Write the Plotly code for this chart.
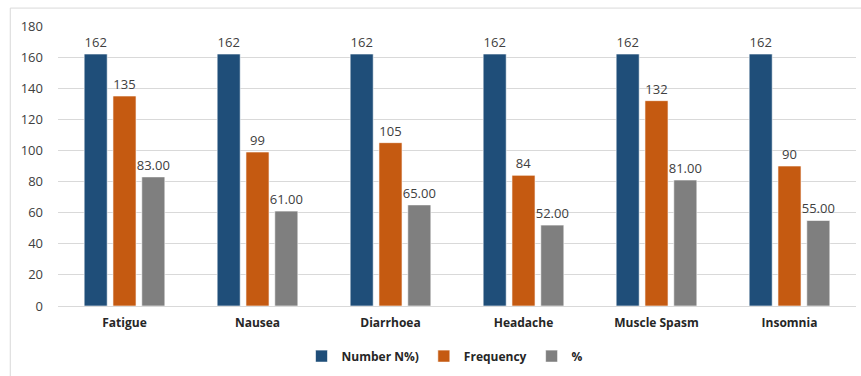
import plotly.graph_objects as go

categories = ["Fatigue", "Nausea", "Diarrhoea", "Headache", "Muscle Spasm", "Insomnia"]
number_n = [162, 162, 162, 162, 162, 162]
frequency = [135, 99, 105, 84, 132, 90]
percent = [83.00, 61.00, 65.00, 52.00, 81.00, 55.00]
y_ticks = [0, 20, 40, 60, 80, 100, 120, 140, 160, 180]

FONT = "Open Sans, Liberation Sans, sans-serif"
LABEL_COLOR = "#404040"

series = [
    ("Number N%)", number_n, "#1F4E79", "%{y:.0f}"),
    ("Frequency", frequency, "#C55A11", "%{y:.0f}"),
    ("%", percent, "#7F7F7F", "%{y:.2f}"),
]

fig = go.Figure()
for name, vals, color, tmpl in series:
    fig.add_trace(go.Bar(
        name=name,
        x=categories,
        y=vals,
        marker=dict(color=color, line=dict(color="rgba(255,255,255,0.6)", width=1)),
        texttemplate=tmpl,
        textposition="outside",
        textangle=0,
        constraintext="none",
        textfont=dict(family=FONT, size=13, color=LABEL_COLOR),
        cliponaxis=False,
    ))

fig.update_layout(
    width=861,
    height=376,
    margin=dict(l=58, r=5, t=26, b=70),
    paper_bgcolor="white",
    plot_bgcolor="white",
    barmode="group",
    bargap=0.35,
    bargroupgap=0.2,
    font=dict(family=FONT, color=LABEL_COLOR),
    uniformtext=dict(minsize=13, mode="show"),
    legend=dict(
        orientation="h",
        x=0.485, xanchor="center",
        y=-0.179, yanchor="middle",
        font=dict(family=FONT, size=12, color="#262626", weight="bold"),
        itemwidth=30,
        tracegroupgap=0,
        traceorder="normal",
    ),
    xaxis=dict(
        tickfont=dict(family=FONT, size=12, color="#262626", weight="bold"),
        showline=False,
        ticks="",
        showgrid=False,
        ticklabelstandoff=8,
    ),
    yaxis=dict(
        range=[0, 180],
        tickvals=y_ticks,
        tickfont=dict(family=FONT, size=13, color=LABEL_COLOR),
        gridcolor="#D9D9D9",
        gridwidth=1,
        zeroline=True,
        zerolinecolor="#D9D9D9",
        zerolinewidth=1,
        showline=False,
        ticks="",
        ticklabelstandoff=14,
    ),
    shapes=[
        dict(type="line", xref="paper", yref="paper",
             x0=-0.0598, x1=1.01, y0=1.064, y1=1.064,
             line=dict(color="#D9D9D9", width=1)),
        dict(type="line", xref="paper", yref="paper",
             x0=-0.0598, x1=-0.0598, y0=1.064, y1=-0.3,
             line=dict(color="#D9D9D9", width=1)),
    ],
)

fig.write_html("out.html")
